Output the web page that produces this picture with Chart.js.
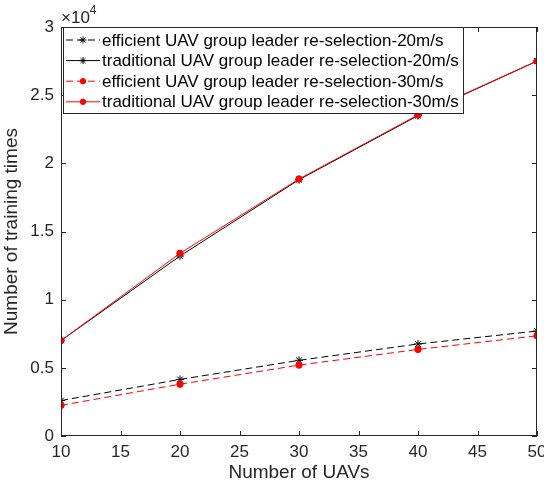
<!DOCTYPE html>
<html>
<head>
<meta charset="utf-8">
<script src="https://cdn.jsdelivr.net/npm/chart.js@4"></script>
<style>
  html, body { margin: 0; padding: 0; background: #fff; }
  #wrap { width: 544px; height: 487px; }
</style>
</head>
<body>
<div id="wrap"><canvas id="myChart" width="544" height="487"></canvas></div>
<script>
// number of UAVs on the x axis
var uavCounts = [10, 20, 30, 40, 50];
// training times for each scheme / speed
var efficient20 = [2600, 4150, 5550, 6750, 7700];
var traditional20 = [7000, 13200, 18800, 23500, 27500];
var efficient30 = [2250, 3800, 5200, 6350, 7350];
var traditional30 = [7000, 13400, 18850, 23550, 27500];

var seriesNames = [
    'efficient UAV group leader re-selection-20m/s',
    'traditional UAV group leader re-selection-20m/s',
    'efficient UAV group leader re-selection-30m/s',
    'traditional UAV group leader re-selection-30m/s'
];

var xTicks = [10, 15, 20, 25, 30, 35, 40, 45, 50];
var yTicks = [0, 5000, 10000, 15000, 20000, 25000, 30000];

var FONT = '"Liberation Sans", Arial, Helvetica, sans-serif';
var AXIS_COLOR = '#262626';

function toPoints(values){
    var pts = new Array;
    for(var i = 0; i < uavCounts.length; i++){
        pts.push({x: uavCounts[i], y: values[i]});
    }
    return pts;
}

function makeSet(label, values, color, dashed, style, order){
    return {
        label: label,
        data: toPoints(values),
        order: order,
        borderColor: color,
        backgroundColor: color,
        borderWidth: 1,
        borderDash: dashed ? [7, 4] : [],
        pointStyle: style,
        pointRadius: style == 'star' ? 4 : 3.2,
        pointBorderColor: color,
        pointBackgroundColor: color,
        pointBorderWidth: 1,
        tension: 0,
        fill: false
    };
}

// MATLAB-like box with inward ticks, the x10^4 multiplier and the legend
var matlabAxes = {
    id: 'matlabAxes',
    afterDraw: function(chart){
        var c = chart.ctx;
        var a = chart.chartArea;
        var xs = chart.scales.x, ys = chart.scales.y;
        c.save();
        c.strokeStyle = AXIS_COLOR;
        c.lineWidth = 1;
        c.strokeRect(a.left + 0.5, a.top + 0.5, a.right - a.left - 1, a.bottom - a.top - 1);
        c.beginPath();
        xTicks.forEach(function(v){
            var px = Math.round(xs.getPixelForValue(v)) + 0.5;
            c.moveTo(px, a.bottom); c.lineTo(px, a.bottom - 5);
            c.moveTo(px, a.top); c.lineTo(px, a.top + 5);
        });
        yTicks.forEach(function(v){
            var py = Math.round(ys.getPixelForValue(v)) + 0.5;
            c.moveTo(a.left, py); c.lineTo(a.left + 5, py);
            c.moveTo(a.right, py); c.lineTo(a.right - 5, py);
        });
        c.stroke();

        // exponent label
        c.fillStyle = AXIS_COLOR;
        c.textBaseline = 'alphabetic';
        c.textAlign = 'left';
        c.font = '17px ' + FONT;
        c.fillText('\u00d710', a.left, 23);
        var w = c.measureText('\u00d710').width;
        c.font = '12px ' + FONT;
        c.fillText('4', a.left + w, 14);

        // legend box
        var lx = a.left + 2, ly = a.top, lw = 400, lh = 86;
        c.fillStyle = '#fff';
        c.fillRect(lx, ly, lw, lh);
        c.strokeStyle = AXIS_COLOR;
        c.strokeRect(lx + 0.5, ly + 0.5, lw, lh);
        c.font = '17px ' + FONT;
        c.textBaseline = 'middle';
        chart.data.datasets.forEach(function(ds, i){
            var cy = ly + 13 + i * 20.6;
            c.save();
            c.strokeStyle = ds.borderColor;
            c.fillStyle = ds.borderColor;
            c.lineWidth = 1;
            c.setLineDash(ds.borderDash);
            c.beginPath();
            c.moveTo(lx + 3, cy); c.lineTo(lx + 37, cy);
            c.stroke();
            c.setLineDash([]);
            Chart.helpers.drawPoint(c, {
                pointStyle: ds.pointStyle,
                radius: ds.pointRadius - 0.5,
                borderWidth: 1
            }, lx + 20, cy);
            c.restore();
            c.fillStyle = '#000';
            c.fillText(ds.label, lx + 39, cy + 1);
        });
        c.restore();
    }
};

var ctx = document.getElementById('myChart').getContext('2d');

// red series get the lower order so they end up on top of the black ones
new Chart(ctx, {
    type: 'line',
    data: {
        datasets: [
            makeSet(seriesNames[0], efficient20, '#000000', true, 'star', 2),
            makeSet(seriesNames[1], traditional20, '#000000', false, 'star', 3),
            makeSet(seriesNames[2], efficient30, '#ff0000', true, 'circle', 0),
            makeSet(seriesNames[3], traditional30, '#ff0000', false, 'circle', 1)
        ]
    },
    options: {
        responsive: false,
        animation: false,
        devicePixelRatio: 1,
        layout: { padding: { left: 0, top: 27, right: 7, bottom: 0 } },
        plugins: {
            legend: { display: false },
            tooltip: { enabled: false }
        },
        scales: {
            x: {
                type: 'linear',
                min: 10,
                max: 50,
                afterBuildTicks: function(scale){
                    scale.ticks = xTicks.map(function(v){ return {value: v}; });
                },
                afterFit: function(scale){
                    scale.height = 51;
                    scale.paddingRight = 0;
                    scale.paddingLeft = 0;
                },
                grid: { display: false, drawTicks: false },
                border: { display: false },
                ticks: {
                    color: AXIS_COLOR,
                    padding: 6,
                    maxRotation: 0,
                    font: { family: FONT, size: 17 }
                },
                title: {
                    display: true,
                    text: 'Number of UAVs',
                    color: AXIS_COLOR,
                    padding: { top: 0, bottom: 3 },
                    font: { family: FONT, size: 19 }
                }
            },
            y: {
                type: 'linear',
                min: 0,
                max: 30000,
                afterBuildTicks: function(scale){
                    scale.ticks = yTicks.map(function(v){ return {value: v}; });
                },
                afterFit: function(scale){ scale.width = 61; },
                grid: { display: false, drawTicks: false },
                border: { display: false },
                ticks: {
                    color: AXIS_COLOR,
                    padding: 7,
                    font: { family: FONT, size: 17 },
                    callback: function(v){ return String(v / 10000); }
                },
                title: {
                    display: true,
                    text: 'Number of training times',
                    color: AXIS_COLOR,
                    padding: { top: 0, bottom: 2 },
                    font: { family: FONT, size: 19 }
                }
            }
        }
    },
    plugins: [matlabAxes]
});
</script>
</body>
</html>
